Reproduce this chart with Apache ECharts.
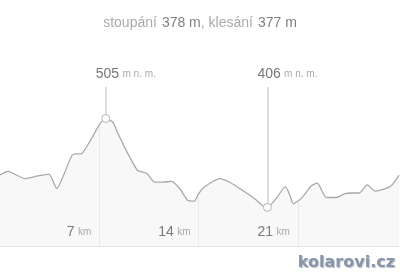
<!DOCTYPE html>
<html><head><meta charset="utf-8">
<script src="https://cdn.jsdelivr.net/npm/echarts@6/dist/echarts.min.js"></script>
<style>html,body{margin:0;padding:0;background:#fff}#c{width:400px;height:274px}</style>
</head><body><div id="c"></div>
<script>
// distance along route (km)
const distKm = [0,0.56,1.76,2.67,3.45,4.01,4.57,5.14,5.77,6.47,7.04,7.46,7.95,8.30,8.66,9.15,9.71,10.34,10.91,11.47,12.10,12.67,13.23,13.72,13.93,14.29,14.92,15.48,16.19,17.10,18.09,18.51,18.86,19.49,20.13,20.41,20.69,21.25,21.96,22.38,23.01,23.72,24.28,24.77,25.33,25.90,26.46,27.02,27.59,28.15];
// elevation (m n. m.)
const elevM = [442,446,438,441,443,427,445,465,466,483,499,505,501,489,477,462,447,444,434,434,435,427,414,413,419,427,434,438,434,425,414,408,406,416,429,421,410,416,430,433,417,417,421,422,422,431,424,426,430,442];
const kmTicks = [7,14,21];
const climbText = ['stoupání', '378 m', 'klesání', '377 m'];
const unitElev = 'm n. m.';
const unitKm = 'km';

const Y_MIN = 363, Y_MAX = 540, X_MAX = 28.15;
const data = distKm.map((d,i)=>[d, elevM[i]]);
let iMax = 0, iMin = 0;
elevM.forEach((v,i)=>{ if (v > elevM[iMax]) iMax = i; if (v < elevM[iMin]) iMin = i; });
const extremes = [iMax, iMin];
// elevation of the profile at a given km (for gridlines that stop at the curve)
function elevAt(k) {
  for (let i = 1; i < distKm.length; i++) {
    if (distKm[i] >= k) {
      const t = (k - distKm[i-1]) / (distKm[i] - distKm[i-1]);
      return elevM[i-1] + t * (elevM[i] - elevM[i-1]);
    }
  }
  return elevM[elevM.length-1];
}

const FONT = '"Liberation Sans", Arial, sans-serif';
const chart = echarts.init(document.getElementById('c'), null, {renderer:'canvas'});
chart.setOption({
  animation: false,
  title: {
    text: `{a|${climbText[0]}} {b|${climbText[1]}}{a|, ${climbText[2]}} {b|${climbText[3]}}`,
    left: 'center', top: 9,
    textStyle: { fontWeight: 'normal', rich: {
      a: {fontSize: 14, color: '#aaaaaa', fontFamily: FONT, fontWeight: 'normal'},
      b: {fontSize: 14, color: '#808080', fontFamily: FONT, fontWeight: 'normal'}
    }}
  },
  grid: { left: 0, right: 0, top: 87, bottom: 28 },
  xAxis: {
    type: 'value', min: 0, max: X_MAX, interval: 7, z: 10,
    axisLine: { show: true, lineStyle: { color: '#e6e6e6', width: 1 } },
    axisTick: { show: false },
    splitLine: { show: false },
    axisLabel: {
      inside: true, margin: 7, align: 'right', verticalAlign: 'bottom',
      padding: [0, 8, 0, 0], showMinLabel: false, showMaxLabel: false,
      formatter: v => kmTicks.includes(v) ? `{n|${v}} {u|${unitKm}}` : '',
      rich: {
        n: {fontSize: 14, color: '#7a7a7a', fontFamily: FONT},
        u: {fontSize: 10, color: '#aaaaaa', fontFamily: FONT}
      }
    }
  },
  yAxis: { type: 'value', min: Y_MIN, max: Y_MAX, show: false, splitLine: {show: false} },
  series: [
    {
      type: 'line', data: data, z: 3, symbol: 'none', smooth: 0.2,
      lineStyle: { color: '#a9a9a9', width: 1.3 },
      areaStyle: { origin: 'start', color: '#f5f5f5' },
      markLine: {
        silent: true, symbol: ['none','none'],
        label: { show: false },
        data: kmTicks.map(k => [
          {coord: [k, Y_MIN], lineStyle: { color: '#eaeaea', width: 1, type: 'solid' }},
          {coord: [k, elevAt(k) - 1.5]}
        ]).concat(extremes.map(i => [
          {coord: [distKm[i], elevM[i]], lineStyle: { color: '#dddddd', width: 2, type: 'solid' }},
          {coord: [distKm[i], Y_MAX]}
        ]))
      },
      markPoint: {
        silent: true,
        data: extremes.map(i => ({
          coord: [distKm[i], elevM[i]], symbol: 'circle', symbolSize: 8,
          itemStyle: { color: '#ffffff', borderColor: '#b5b5b5', borderWidth: 1 },
          label: { show: false }
        })).concat(extremes.map(i => ({
          coord: [distKm[i], Y_MAX], symbol: 'circle', symbolSize: 1,
          itemStyle: { color: 'rgba(0,0,0,0)' },
          label: {
            show: true, position: 'top', distance: 5, align: 'left', verticalAlign: 'bottom',
            offset: [-10, 0],
            formatter: `{v|${elevM[i]}} {u|${unitElev}}`,
            rich: {
              v: {fontSize: 14, color: '#777777', fontFamily: FONT},
              u: {fontSize: 10, color: '#aaaaaa', fontFamily: FONT}
            }
          }
        })))
      }
    }
  ],
  graphic: [{
    type: 'text', right: 5, bottom: 3, z: 10,
    style: {
      text: 'kolarovi.cz', fill: '#8696ab',
      font: 'bold 16px "DejaVu Sans", Verdana, sans-serif',
      textShadowColor: 'rgba(60,70,90,0.35)', textShadowBlur: 1, textShadowOffsetX: 1, textShadowOffsetY: 1
    }
  }]
});
</script></body></html>
